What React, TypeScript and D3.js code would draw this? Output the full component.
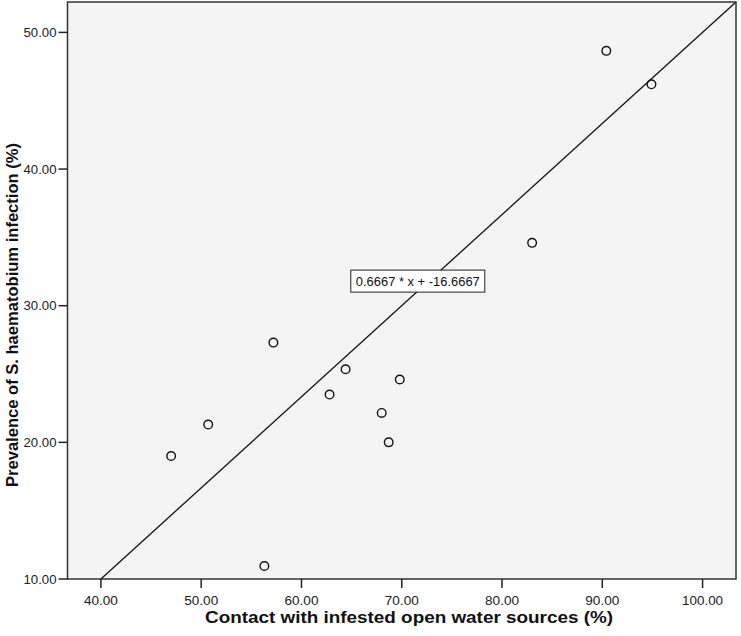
import React from 'react'
import * as d3 from 'd3'

// contact with infested water (%) vs prevalence (%)
const contact = [47.0, 50.7, 56.3, 57.2, 62.8, 64.4, 68.0, 68.7, 69.8, 83.0, 90.4, 94.9]
const prevalence = [19.0, 21.3, 10.95, 27.3, 23.5, 25.35, 22.15, 20.0, 24.6, 34.6, 48.65, 46.2]
const xTicks = [40, 50, 60, 70, 80, 90, 100]
const yTicks = [10, 20, 30, 40, 50]
const fitSlope = 0.6667
const fitIntercept = -16.6667
const fitLabel = '0.6667 * x + -16.6667'

const width = 741
const height = 636
const margin = { left: 67.5, top: 2, right: 5, bottom: 57 }
const innerWidth = width - margin.left - margin.right
const innerHeight = height - margin.top - margin.bottom

const font = 'Arial, "Liberation Sans", sans-serif'

const xScale = d3.scaleLinear().domain([36.667, 103.333]).range([0, innerWidth])
const yScale = d3
  .scaleLinear()
  .domain([10, fitSlope * 103.333 + fitIntercept])
  .range([innerHeight, 0])

const points = contact.map((c, i) => ({ x: c, y: prevalence[i] }))

function FitLine() {
  const x0 = 40
  const x1 = xScale.domain()[1]
  const line = d3
    .line<number>()
    .x(d => xScale(d))
    .y(d => yScale(fitSlope * d + fitIntercept))
  return <path d={line([x0, x1]) || ''} fill="none" stroke="#111" strokeWidth={1.3} />
}

function FitLabel() {
  const lx = 71.6
  const ly = 31.8
  const cx = xScale(lx)
  const cy = yScale(ly)
  const w = 134
  const h = 22
  return (
    <g>
      <rect x={cx - w / 2} y={cy - h / 2} width={w} height={h} fill="#fff" stroke="#222" strokeWidth={1} />
      <text
        x={cx}
        y={cy + 4.5}
        textAnchor="middle"
        fontSize={12.5}
        fontFamily={font}
        fill="#111"
        textLength={124}
        lengthAdjust="spacingAndGlyphs"
      >
        {fitLabel}
      </text>
    </g>
  )
}

export default function App() {
  return (
    <svg width={width} height={height} style={{ display: 'block', position: 'absolute', left: 0, top: 0 }}>
      <g transform={`translate(${margin.left}, ${margin.top})`}>
        <rect x={0} y={0} width={innerWidth} height={innerHeight} fill="#f4f4f4" />
        <FitLine />
        {points.map((p, i) => (
          <circle
            key={i}
            cx={xScale(p.x)}
            cy={yScale(p.y)}
            r={4.3}
            fill="none"
            stroke="#111"
            strokeWidth={1.4}
          />
        ))}
        <FitLabel />
        <rect x={0} y={0} width={innerWidth} height={innerHeight} fill="none" stroke="#333" strokeWidth={1.5} />
        {xTicks.map(t => (
          <g key={t} transform={`translate(${xScale(t)}, ${innerHeight})`}>
            <line y1={0} y2={9} stroke="#222" strokeWidth={1.5} />
            <text
              y={26}
              textAnchor="middle"
              fontSize={12.5}
              fontFamily={font}
              fill="#222"
              textLength={t >= 100 ? 41 : 34}
              lengthAdjust="spacingAndGlyphs"
            >
              {t.toFixed(2)}
            </text>
          </g>
        ))}
        {yTicks.map(t => (
          <g key={t} transform={`translate(0, ${yScale(t)})`}>
            <line x1={0} x2={-9} stroke="#222" strokeWidth={1.5} />
            <text
              x={-11}
              y={4.5}
              textAnchor="end"
              fontSize={12.5}
              fontFamily={font}
              fill="#222"
              textLength={33}
              lengthAdjust="spacingAndGlyphs"
            >
              {t.toFixed(2)}
            </text>
          </g>
        ))}
      </g>
      <text
        x={409}
        y={623}
        textAnchor="middle"
        fontSize={17}
        fontWeight="bold"
        fontFamily={font}
        fill="#111"
        textLength={408}
        lengthAdjust="spacingAndGlyphs"
      >
        Contact with infested open water sources (%)
      </text>
      <text
        transform={`translate(18, 315) rotate(-90)`}
        textAnchor="middle"
        fontSize={17}
        fontWeight="bold"
        fontFamily={font}
        fill="#111"
        textLength={344}
        lengthAdjust="spacingAndGlyphs"
      >
        Prevalence of S. haematobium infection (%)
      </text>
    </svg>
  )
}
